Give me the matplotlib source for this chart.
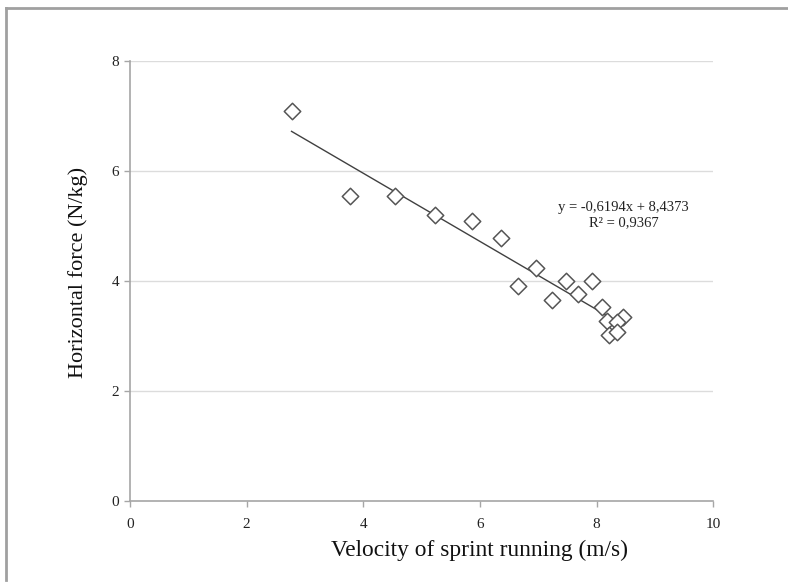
import matplotlib
matplotlib.use('Agg')
import matplotlib.pyplot as plt
import numpy as np
from matplotlib.lines import Line2D

# velocity (m/s) vs horizontal force (N/kg)
velocity = [2.77, 3.78, 4.54, 5.23, 5.87, 6.36, 6.96, 6.66, 7.47, 7.92,
            7.69, 7.23, 8.10, 8.18, 8.46, 8.35, 8.22, 8.35]
force = [7.09, 5.55, 5.55, 5.20, 5.10, 4.79, 4.23, 3.91, 4.00, 4.00,
         3.76, 3.65, 3.52, 3.28, 3.35, 3.26, 3.02, 3.08]

slope = -0.6194
intercept = 8.4373
r2_text = 'R² = 0,9367'
eq_text = 'y = -0,6194x + 8,4373'

x_ticks = [0, 2, 4, 6, 8, 10]
y_ticks = [0, 2, 4, 6, 8]

plt.rcParams['font.family'] = ['Liberation Serif', 'DejaVu Serif']

fig = plt.figure(figsize=(7.88, 5.87), dpi=100)
ax = fig.add_axes([0.165, 0.1465, 0.74, 0.7495])

# outer frame (only left and top visible in the reference)
fig.add_artist(Line2D([0.008, 0.008], [0.012, 0.986], transform=fig.transFigure,
                      color='#a0a0a0', lw=2))
fig.add_artist(Line2D([0.007, 1.0], [0.986, 0.986], transform=fig.transFigure,
                      color='#a0a0a0', lw=2))

for yv in y_ticks[1:]:
    ax.axhline(yv, color='#dcdcdc', lw=1, zorder=0)

ax.scatter(velocity, force, marker='D', s=70, facecolors='white',
           edgecolors='#555555', linewidths=1.1, zorder=3)

xs = np.array([min(velocity), max(velocity)])
ax.plot(xs, slope * xs + intercept, color='#404040', lw=1, zorder=2)

ax.text(8.46, 5.2, eq_text + '\n' + r2_text, ha='center', va='center',
        fontsize=10.5, color='#222222', linespacing=1.2)

ax.set_xlim(0, 10)
ax.set_ylim(0, 8)
ax.set_xticks(x_ticks)
ax.set_yticks(y_ticks)
ax.tick_params(axis='both', direction='out', length=4, width=1,
               color='#a6a6a6', labelsize=11, labelcolor='#222222', pad=4)
ax.tick_params(axis='x', pad=8)

for s in ['top', 'right']:
    ax.spines[s].set_visible(False)
for s in ['left', 'bottom']:
    ax.spines[s].set_color('#a6a6a6')
    ax.spines[s].set_linewidth(1.2)

ax.set_xlabel('Velocity of sprint running (m/s)', fontsize=16.8, color='#111111')
ax.xaxis.set_label_coords(0.6, -0.089)
ax.set_ylabel('Horizontal force (N/kg)', fontsize=16, color='#111111')
ax.yaxis.set_label_coords(-0.072, 0.52)

fig.savefig('out.png', dpi=100)
